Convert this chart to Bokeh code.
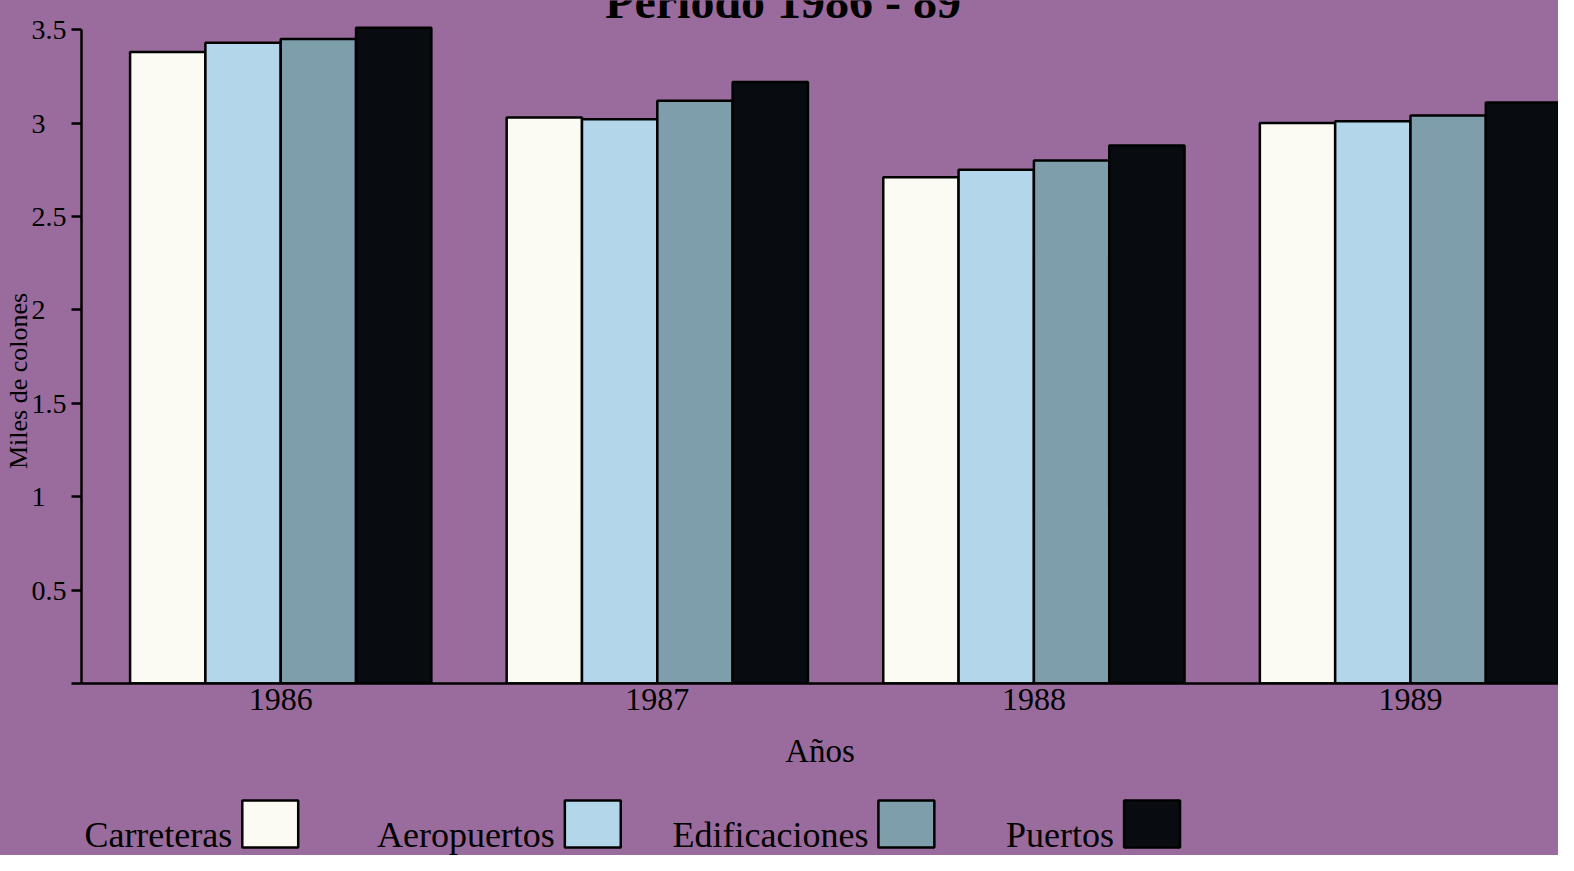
from bokeh.plotting import figure
from bokeh.models import Range1d, FixedTicker, ColumnDataSource
from bokeh.transform import dodge
from bokeh.layouts import column
from bokeh.core.properties import value
from bokeh.embed import file_html
from bokeh.resources import INLINE

# ---- data ----
years = ["1986", "1987", "1988", "1989"]
series = ["Carreteras", "Aeropuertos", "Edificaciones", "Puertos"]
carreteras = [3.38, 3.03, 2.71, 3.00]
aeropuertos = [3.43, 3.02, 2.75, 3.01]
edificaciones = [3.45, 3.12, 2.80, 3.04]
puertos = [3.51, 3.22, 2.88, 3.11]
y_ticks = [0, 0.5, 1, 1.5, 2, 2.5, 3, 3.5]
y_tick_labels = ["", "0.5", "1", "1.5", "2", "2.5", "3", "3.5"]
title_text = "Periodo 1986 - 89"
x_title = "Años"
y_title = "Miles de colones"

# ---- style / layout ----
BG = "#9a6b9d"
colors = ["#fbfbf4", "#b3d6ea", "#7f9eab", "#080c10"]
offsets = [-0.3, -0.1, 0.1, 0.3]
FONT = "Liberation Serif"
W = 1558
H1, H2 = 792, 63
NBSP = "\u00a0"

idx = list(range(len(years)))
source = ColumnDataSource(dict(idx=idx, Carreteras=carreteras, Aeropuertos=aeropuertos,
                               Edificaciones=edificaciones, Puertos=puertos))

p = figure(width=W, height=H1, x_range=Range1d(-0.529, 3.393), y_range=Range1d(0, 3.656),
           output_backend="svg", toolbar_location=None,
           min_border_left=79, min_border_right=0, min_border_top=0, min_border_bottom=109,
           background_fill_color=BG, border_fill_color=BG, outline_line_color=None)
p.grid.visible = False

for name, col, off in zip(series, colors, offsets):
    p.vbar(x=dodge("idx", off, range=p.x_range), top=name, width=0.2, bottom=0,
           source=source, fill_color=col, line_color="black", line_width=2.5)

# title, cut at the top edge as in the original
p.text(x=[1.334], y=[3.651], text=[title_text], text_font=value(FONT),
       text_font_style="bold", text_font_size="48px", text_align="center",
       text_baseline="alphabetic", text_color="black")

xa = p.xaxis[0]
xa.ticker = FixedTicker(ticks=idx)
xa.major_label_overrides = {i: y for i, y in zip(idx, years)}
xa.major_tick_out = 0
xa.major_tick_in = 0
xa.minor_tick_out = 0
xa.minor_tick_in = 0
xa.axis_line_width = 2.5
xa.axis_line_color = "black"
xa.major_label_text_font = FONT
xa.major_label_text_font_size = "32px"
xa.major_label_text_color = "black"
xa.major_label_standoff = 5
xa.axis_label = x_title
xa.axis_label_text_font = FONT
xa.axis_label_text_font_size = "33px"
xa.axis_label_text_font_style = "normal"
xa.axis_label_text_color = "black"
xa.axis_label_standoff = 20

# tick labels are left-aligned in the original: pad the short ones
def pad(lbl):
    return lbl + NBSP * 3 if (lbl and "." not in lbl) else lbl

ya = p.yaxis[0]
ya.ticker = FixedTicker(ticks=y_ticks)
ya.major_label_overrides = {t: pad(l) for t, l in zip(y_ticks, y_tick_labels)}
ya.bounds = (0, 3.5)
ya.major_tick_out = 10
ya.major_tick_in = 0
ya.major_tick_line_width = 2.5
ya.minor_tick_out = 0
ya.minor_tick_in = 0
ya.axis_line_width = 2.5
ya.axis_line_color = "black"
ya.major_label_text_font = FONT
ya.major_label_text_font_size = "28px"
ya.major_label_text_color = "black"
ya.major_label_standoff = 5
# trailing no-break spaces push the visible title lower, where the original has it
ya.axis_label = y_title + NBSP * 12
ya.axis_label_text_font = FONT
ya.axis_label_text_font_size = "26px"
ya.axis_label_text_font_style = "normal"
ya.axis_label_text_color = "black"
ya.axis_label_standoff = -4

# ---- legend: label followed by its swatch, as in the original ----
box_left = [240, 563, 877, 1123]
box_w = 56
p2 = figure(width=W, height=H2, x_range=Range1d(79, W), y_range=Range1d(H1 + H2, H1),
            output_backend="svg", toolbar_location=None, min_border=0,
            background_fill_color=BG, border_fill_color=BG, outline_line_color=None)
p2.axis.visible = False
p2.grid.visible = False
leg = ColumnDataSource(dict(left=box_left, right=[b + box_w for b in box_left],
                            tx=[b - 10 for b in box_left], name=series, color=colors))
p2.quad(left="left", right="right", top=800, bottom=847, source=leg,
        fill_color="color", line_color="black", line_width=2.5)
p2.text(x="tx", y=834, text="name", source=leg, text_font=value(FONT),
        text_font_size="36px", text_align="right", text_baseline="alphabetic",
        text_color="black")

layout = column(p, p2, spacing=0, styles={"background-color": BG})
open("out.html", "w").write(file_html(layout, INLINE))
